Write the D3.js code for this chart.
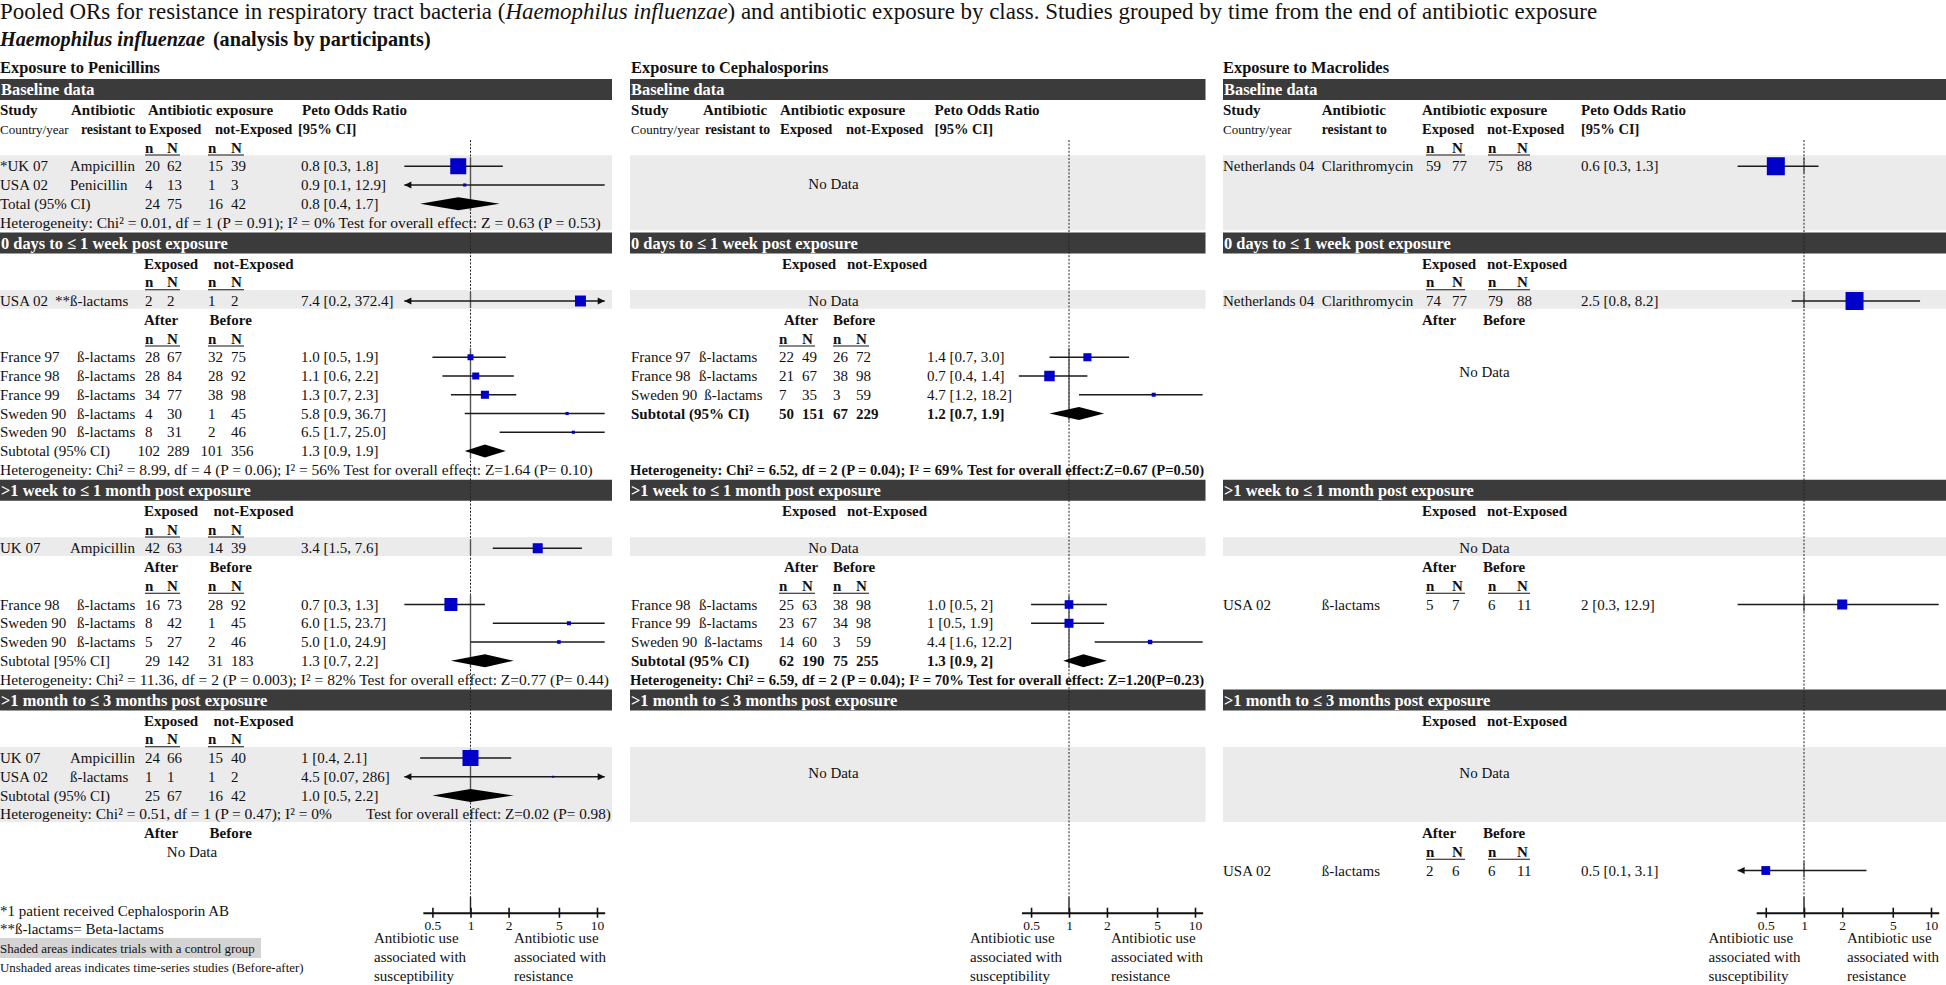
<!DOCTYPE html>
<html><head><meta charset="utf-8">
<script src="https://cdn.jsdelivr.net/npm/d3@7"></script>
<style>body{margin:0;background:#fff} text{font-family:"Liberation Serif","Times New Roman",serif;}</style>
</head><body><script>
// ---------------- DATA ----------------
const titleParts = [["Pooled ORs for resistance in respiratory tract bacteria (", false], ["Haemophilus influenzae", true], [") and antibiotic exposure by class. Studies grouped by time from the end of antibiotic exposure", false]];
const subtitleParts = [["Haemophilus influenzae", true], ["(analysis by participants)", false]];
const panelTitles = ["Exposure to Penicillins", "Exposure to Cephalosporins", "Exposure to Macrolides"];
const periods = ["Baseline data", "0 days to \u2264 1 week post exposure", ">1 week to \u2264 1 month post exposure", ">1 month to \u2264 3 months post exposure"];
const axisTicks = [0.5, 1, 2, 5, 10];
const axisLeftLabel = ["Antibiotic use", "associated with", "susceptibility"];
const axisRightLabel = ["Antibiotic use", "associated with", "resistance"];
const footnotes = ["*1 patient received Cephalosporin AB", "**\u00DF-lactams= Beta-lactams", "Shaded areas indicates trials with a control group", "Unshaded areas indicates time-series studies (Before-after)"];

// Penicillins
const penBase = [
  {study: "*UK 07", ab: "Ampicillin", n1: 20, N1: 62, n2: 15, N2: 39, or: "0.8", lo: "0.3", hi: "1.8", w: 79},
  {study: "USA 02", ab: "Penicillin", n1: 4, N1: 13, n2: 1, N2: 3, or: "0.9", lo: "0.1", hi: "12.9", w: 3}
];
const penBaseTotal = {label: "Total (95% CI)", n1: 24, N1: 75, n2: 16, N2: 42, or: "0.8", lo: "0.4", hi: "1.7"};
const penBaseHet = "Heterogeneity: Chi\u00B2 = 0.01, df = 1 (P = 0.91); I\u00B2 = 0%  Test for overall effect: Z = 0.63 (P = 0.53)";

const pen0Ctrl = [{study: "USA 02", ab: "**\u00DF-lactams", n1: 2, N1: 2, n2: 1, N2: 2, or: "7.4", lo: "0.2", hi: "372.4", w: 37}];
const pen0TS = [
  {study: "France 97", ab: "\u00DF-lactams", n1: 28, N1: 67, n2: 32, N2: 75, or: "1.0", lo: "0.5", hi: "1.9", w: 11},
  {study: "France 98", ab: "\u00DF-lactams", n1: 28, N1: 84, n2: 28, N2: 92, or: "1.1", lo: "0.6", hi: "2.2", w: 15},
  {study: "France 99", ab: "\u00DF-lactams", n1: 34, N1: 77, n2: 38, N2: 98, or: "1.3", lo: "0.7", hi: "2.3", w: 20},
  {study: "Sweden 90", ab: "\u00DF-lactams", n1: 4, N1: 30, n2: 1, N2: 45, or: "5.8", lo: "0.9", hi: "36.7", w: 3},
  {study: "Sweden 90", ab: "\u00DF-lactams", n1: 8, N1: 31, n2: 2, N2: 46, or: "6.5", lo: "1.7", hi: "25.0", w: 3}
];
const pen0Sub = {label: "Subtotal (95% CI)", n1: 102, N1: 289, n2: 101, N2: 356, or: "1.3", lo: "0.9", hi: "1.9"};
const pen0Het = "Heterogeneity: Chi\u00B2 = 8.99, df = 4 (P = 0.06); I\u00B2 = 56%  Test for overall effect: Z=1.64 (P= 0.10)";

const pen1Ctrl = [{study: "UK 07", ab: "Ampicillin", n1: 42, N1: 63, n2: 14, N2: 39, or: "3.4", lo: "1.5", hi: "7.6", w: 31}];
const pen1TS = [
  {study: "France 98", ab: "\u00DF-lactams", n1: 16, N1: 73, n2: 28, N2: 92, or: "0.7", lo: "0.3", hi: "1.3", w: 52},
  {study: "Sweden 90", ab: "\u00DF-lactams", n1: 8, N1: 42, n2: 1, N2: 45, or: "6.0", lo: "1.5", hi: "23.7", w: 5},
  {study: "Sweden 90", ab: "\u00DF-lactams", n1: 5, N1: 27, n2: 2, N2: 46, or: "5.0", lo: "1.0", hi: "24.9", w: 4}
];
const pen1Sub = {label: "Subtotal [95% CI]", n1: 29, N1: 142, n2: 31, N2: 183, or: "1.3", lo: "0.7", hi: "2.2"};
const pen1Het = "Heterogeneity: Chi\u00B2 = 11.36, df = 2 (P = 0.003); I\u00B2 = 82%  Test for overall effect: Z=0.77 (P= 0.44)";

const pen3Ctrl = [
  {study: "UK 07", ab: "Ampicillin", n1: 24, N1: 66, n2: 15, N2: 40, or: "1", lo: "0.4", hi: "2.1", w: 79},
  {study: "USA 02", ab: "\u00DF-lactams", n1: 1, N1: 1, n2: 1, N2: 2, or: "4.5", lo: "0.07", hi: "286", w: 1.2}
];
const pen3Sub = {label: "Subtotal (95% CI)", n1: 25, N1: 67, n2: 16, N2: 42, or: "1.0", lo: "0.5", hi: "2.2"};
const pen3Het = ["Heterogeneity: Chi\u00B2 = 0.51, df = 1 (P = 0.47); I\u00B2 = 0%", "Test for overall effect: Z=0.02 (P= 0.98)"];

// Cephalosporins
const cep0TS = [
  {study: "France 97", ab: "\u00DF-lactams", n1: 22, N1: 49, n2: 26, N2: 72, or: "1.4", lo: "0.7", hi: "3.0", w: 20},
  {study: "France 98", ab: "\u00DF-lactams", n1: 21, N1: 67, n2: 38, N2: 98, or: "0.7", lo: "0.4", hi: "1.4", w: 34},
  {study: "Sweden 90", ab: "\u00DF-lactams", n1: 7, N1: 35, n2: 3, N2: 59, or: "4.7", lo: "1.2", hi: "18.2", w: 5}
];
const cep0Sub = {label: "Subtotal (95% CI)", n1: 50, N1: 151, n2: 67, N2: 229, or: "1.2", lo: "0.7", hi: "1.9"};
const cep0Het = "Heterogeneity: Chi\u00B2 = 6.52, df = 2 (P = 0.04); I\u00B2 = 69%  Test for overall effect:Z=0.67 (P=0.50)";
const cep1TS = [
  {study: "France 98", ab: "\u00DF-lactams", n1: 25, N1: 63, n2: 38, N2: 98, or: "1.0", lo: "0.5", hi: "2", w: 23},
  {study: "France 99", ab: "\u00DF-lactams", n1: 23, N1: 67, n2: 34, N2: 98, or: "1", lo: "0.5", hi: "1.9", w: 25},
  {study: "Sweden 90", ab: "\u00DF-lactams", n1: 14, N1: 60, n2: 3, N2: 59, or: "4.4", lo: "1.6", hi: "12.2", w: 6}
];
const cep1Sub = {label: "Subtotal (95% CI)", n1: 62, N1: 190, n2: 75, N2: 255, or: "1.3", lo: "0.9", hi: "2"};
const cep1Het = "Heterogeneity: Chi\u00B2 = 6.59, df = 2 (P = 0.04); I\u00B2 = 70%  Test for overall effect: Z=1.20(P=0.23)";

// Macrolides
const macBase = [{study: "Netherlands 04", ab: "Clarithromycin", n1: 59, N1: 77, n2: 75, N2: 88, or: "0.6", lo: "0.3", hi: "1.3", w: 100}];
const mac0Ctrl = [{study: "Netherlands 04", ab: "Clarithromycin", n1: 74, N1: 77, n2: 79, N2: 88, or: "2.5", lo: "0.8", hi: "8.2", w: 100}];
const mac1TS = [{study: "USA 02", ab: "\u00DF-lactams", n1: 5, N1: 7, n2: 6, N2: 11, or: "2", lo: "0.3", hi: "12.9", w: 31}];
const mac3TS = [{study: "USA 02", ab: "\u00DF-lactams", n1: 2, N1: 6, n2: 6, N2: 11, or: "0.5", lo: "0.1", hi: "3.1", w: 24}];

// ---------------- LAYOUT ----------------
const PANELS = [
  {x0: 0, x1: 612, sx: 0, ab: 70, cols: [152, 174, 215, 238], orx: 301, one: 470.5, dec: 126.5,
   hdr: {study: 0, abh: 71, exp: 148, peto: 302, cy: 0, res: 81, e: 149, ne: 215, ci: 298},
   grp: {e: 144, ne: 213.5, a: 144, b: 209.6}, ndx: 192, annL: 374, annR: 514},
  {x0: 630, x1: 1205.5, sx: 631, ab: 699, cols: [786, 809, 840, 863], orx: 927, one: 1069, dec: 126,
   hdr: {study: 631, abh: 703, exp: 780, peto: 934.6, cy: 631, res: 705, e: 780, ne: 846, ci: 934.6},
   grp: {e: 782, ne: 847, a: 784, b: 833}, ndx: 833.5, annL: 970, annR: 1111},
  {x0: 1223, x1: 1946, sx: 1223, ab: 1321.7, cols: [1433, 1459, 1495, 1524], orx: 1581, one: 1804, dec: 127,
   hdr: {study: 1223, abh: 1321.7, exp: 1422, peto: 1581, cy: 1223, res: 1321.7, e: 1422, ne: 1487, ci: 1581},
   grp: {e: 1422, ne: 1487, a: 1422, b: 1483}, ndx: 1484.5, annL: 1708.5, annR: 1847}
];
PANELS.forEach(p => {
  p.xs = d3.scaleLog().domain([0.5, 10]).range([p.one + p.dec * Math.log10(0.5), p.one + p.dec]);
});
const PITCH = 18.75, secStart = [115, 268.5, 515.75, 725.5];
const Y = (s, k) => secStart[s] + k * PITCH;
const FS = 15, DIGIT = 7.5;
const CLIP = [0.3, 11.5], ARROW = [0.25, 100];
const AXIS_Y = 912.7;
const size = d3.scaleSqrt().domain([0, 100]).range([0, 18]);

const svg = d3.select("body").append("svg").attr("width", 1946).attr("height", 985).style("display", "block");
const gBg = svg.append("g"), gLine = svg.append("g"), gTxt = svg.append("g"), gMk = svg.append("g");

function T(x, y, s, o = {}) {
  const t = gTxt.append("text").attr("x", x).attr("y", y).attr("font-size", o.fs || FS).text(s);
  if (o.bold) t.attr("font-weight", "bold");
  if (o.italic) t.attr("font-style", "italic");
  if (o.anchor) t.attr("text-anchor", o.anchor);
  t.attr("fill", o.fill || "#111");
  return t;
}
function fit(t, w) {
  const cur = t.node().getComputedTextLength();
  t.attr("font-size", (+t.attr("font-size")) * w / cur);
  return t;
}
function shade(p, s, k, n) {
  gBg.append("rect").attr("x", p.x0).attr("y", Y(s, k) - 16).attr("width", p.x1 - p.x0).attr("height", n * PITCH).attr("fill", "#ebebeb");
}
function bar(p, s) {
  const top = secStart[s] - 36;
  gBg.append("rect").attr("x", p.x0).attr("y", top).attr("width", p.x1 - p.x0).attr("height", 21).attr("fill", "#3b3b3b");
  T(p.x0 + 1, top + 16, periods[s], {bold: true, fs: 16.4, fill: "#fff"});
}
function headers(p) {
  const h = p.hdr, y0 = Y(0, 0), y1 = Y(0, 1);
  T(h.study, y0, "Study", {bold: true}); T(h.abh, y0, "Antibiotic", {bold: true});
  T(h.exp, y0, "Antibiotic exposure", {bold: true}); T(h.peto, y0, "Peto Odds Ratio", {bold: true});
  T(h.cy, y1, "Country/year", {fs: 13}); T(h.res, y1, "resistant to", {bold: true, fs: 13.8});
  T(h.e, y1, "Exposed", {bold: true, fs: 14.5}); T(h.ne, y1, "not-Exposed", {bold: true, fs: 14.5}); T(h.ci, y1, "[95% CI]", {bold: true, fs: 14.5});
}
function grp(p, y, a, b, ctrl) {
  T(ctrl ? p.grp.e : p.grp.a, y, a, {bold: true});
  T(ctrl ? p.grp.ne : p.grp.b, y, b, {bold: true});
}
function nN(p, y) {
  ["n", "N", "n", "N"].forEach((s, i) => T(p.cols[i] - 7, y, s, {bold: true}));
  [[0, 1], [2, 3]].forEach(([a, b]) => gLine.append("line").attr("x1", p.cols[a] - 7).attr("x2", p.cols[b] + 6)
    .attr("y1", y + 2.5).attr("y2", y + 2.5).attr("stroke", "#111").attr("stroke-width", 1.2));
}
function nums(p, y, d, bold) {
  [d.n1, d.N1, d.n2, d.N2].forEach((v, i) => {
    const len = String(v).length;
    const x = p.cols[i] - 7 - (i % 2 === 0 ? Math.max(0, len - 2) * DIGIT : 0);
    T(x, y, v, {bold});
  });
}
function noData(p, y) { T(p.ndx, y, "No Data", {anchor: "middle"}); }
function vline(p, yA, yB) {
  gLine.append("line").attr("x1", p.xs(1)).attr("x2", p.xs(1)).attr("y1", yA - 14).attr("y2", yB + 2)
    .attr("stroke", "#555").attr("stroke-width", 1.4);
}
function ciMark(p, y, d) {
  const lo = +d.lo, hi = +d.hi, or = +d.or, x = p.xs;
  const xl = x(Math.max(lo, CLIP[0])), xr = x(Math.min(hi, CLIP[1]));
  gMk.append("line").attr("x1", xl).attr("x2", xr).attr("y1", y).attr("y2", y).attr("stroke", "#1a1a1a").attr("stroke-width", 1.6);
  if (lo < ARROW[0]) gMk.append("path").attr("d", `M${xl},${y}L${xl + 7},${y - 3.5}L${xl + 7},${y + 3.5}Z`).attr("fill", "#111");
  if (hi > ARROW[1]) gMk.append("path").attr("d", `M${xr},${y}L${xr - 7},${y - 3.5}L${xr - 7},${y + 3.5}Z`).attr("fill", "#111");
  const s = Math.max(2, size(d.w));
  gMk.append("rect").attr("x", x(or) - s / 2).attr("y", y - s / 2).attr("width", s).attr("height", s).attr("fill", "#0000c8");
}
function diamond(p, y, d) {
  const x = p.xs;
  gMk.append("path").attr("d", `M${x(+d.lo)},${y}L${x(+d.or)},${y - 6.5}L${x(+d.hi)},${y}L${x(+d.or)},${y + 6.5}Z`).attr("fill", "#000");
}
function studyRow(p, y, d, abx) {
  const t = T(p.sx, y, d.study);
  const w = t.node().getComputedTextLength();
  T(Math.max(abx === undefined ? p.ab : abx, p.sx + w + 7), y, d.ab);
  nums(p, y, d, false);
  T(p.orx, y, `${d.or} [${d.lo}, ${d.hi}]`);
  ciMark(p, y - 5, d);
}
function totalRow(p, y, d, bold) {
  T(p.sx, y, d.label, {bold});
  nums(p, y, d, bold);
  T(p.orx, y, `${d.or} [${d.lo}, ${d.hi}]`, {bold});
  diamond(p, y - 5, d);
}

// ---------------- TITLES ----------------
const tt = gTxt.append("text").attr("x", 0).attr("y", 19).attr("font-size", 22).attr("fill", "#111");
titleParts.forEach(([s, it]) => tt.append("tspan").attr("font-style", it ? "italic" : "normal").text(s));
fit(tt, 1598);
const st = gTxt.append("text").attr("x", 0).attr("y", 46).attr("font-size", 17).attr("font-weight", "bold").attr("fill", "#111");
st.append("tspan").attr("font-style", "italic").text(subtitleParts[0][0]);
st.append("tspan").attr("dx", 8).text(subtitleParts[1][0]);
fit(st, 423);

// ---------------- PANELS ----------------
PANELS.forEach((p, i) => {
  T(p.sx, 73, panelTitles[i], {bold: true, fs: 16.4});
  [0, 1, 2, 3].forEach(s => bar(p, s));
  gLine.append("line").attr("x1", p.xs(1)).attr("x2", p.xs(1)).attr("y1", 140).attr("y2", 897)
    .attr("stroke", "#222").attr("stroke-width", 1).attr("stroke-dasharray", "2,1.6");
  gLine.append("line").attr("x1", p.xs(1)).attr("x2", p.xs(1)).attr("y1", 897).attr("y2", AXIS_Y)
    .attr("stroke", "#222").attr("stroke-width", 1.4);
  const ax = d3.scaleLog().domain([0.42, 11.5]).range([p.xs(0.42), p.xs(11.5)]);
  const g = svg.append("g").attr("transform", `translate(0,${AXIS_Y})`)
    .call(d3.axisBottom(ax).tickValues(axisTicks).tickFormat(d => String(d)).tickSize(5).tickSizeOuter(0));
  g.select(".domain").attr("stroke", "#111").attr("stroke-width", 2);
  g.selectAll(".tick line").attr("y1", -5).attr("y2", 5).attr("stroke", "#111").attr("stroke-width", 1.6);
  g.selectAll(".tick text").attr("font-family", "Liberation Sans, Arial, sans-serif").attr("font-size", 13.5).attr("fill", "#111").attr("y", 8);
  axisLeftLabel.forEach((s, j) => T(p.annL, 943 + j * 19, s));
  axisRightLabel.forEach((s, j) => T(p.annR, 943 + j * 19, s));
});

// ---- Penicillins ----
{
  const p = PANELS[0];
  shade(p, 0, 3, 4); headers(p); nN(p, Y(0, 2));
  penBase.forEach((d, i) => studyRow(p, Y(0, 3 + i), d));
  totalRow(p, Y(0, 5), penBaseTotal, false); vline(p, Y(0, 3), Y(0, 5));
  fit(T(0, Y(0, 6), penBaseHet), 601);

  grp(p, Y(1, 0), "Exposed", "not-Exposed", true); nN(p, Y(1, 1));
  shade(p, 1, 2, 1); studyRow(p, Y(1, 2), pen0Ctrl[0], 0); vline(p, Y(1, 2), Y(1, 2));
  grp(p, Y(1, 3), "After", "Before"); nN(p, Y(1, 4));
  pen0TS.forEach((d, i) => studyRow(p, Y(1, 5 + i), d, 77));
  totalRow(p, Y(1, 10), pen0Sub, false); vline(p, Y(1, 5), Y(1, 10));
  fit(T(0, Y(1, 11), pen0Het), 593);

  grp(p, Y(2, 0), "Exposed", "not-Exposed", true); nN(p, Y(2, 1));
  shade(p, 2, 2, 1); studyRow(p, Y(2, 2), pen1Ctrl[0]); vline(p, Y(2, 2), Y(2, 2));
  grp(p, Y(2, 3), "After", "Before"); nN(p, Y(2, 4));
  pen1TS.forEach((d, i) => studyRow(p, Y(2, 5 + i), d, 77));
  totalRow(p, Y(2, 8), pen1Sub, false); vline(p, Y(2, 5), Y(2, 8));
  fit(T(0, Y(2, 9), pen1Het), 609);

  grp(p, Y(3, 0), "Exposed", "not-Exposed", true); nN(p, Y(3, 1));
  shade(p, 3, 2, 4);
  pen3Ctrl.forEach((d, i) => studyRow(p, Y(3, 2 + i), d));
  totalRow(p, Y(3, 4), pen3Sub, false); vline(p, Y(3, 2), Y(3, 4));
  fit(T(0, Y(3, 5), pen3Het[0]), 332);
  fit(T(366, Y(3, 5), pen3Het[1]), 245);
  grp(p, Y(3, 6), "After", "Before"); noData(p, Y(3, 7));

  T(0, 916, footnotes[0]);
  T(0, 934, footnotes[1]);
  gBg.append("rect").attr("x", 0).attr("y", 938).attr("width", 261).attr("height", 20).attr("fill", "#d4d4d4");
  fit(T(0, 953, footnotes[2], {fs: 12.5}), 255);
  fit(T(0, 972, footnotes[3], {fs: 12.5}), 304);
}

// ---- Cephalosporins ----
{
  const p = PANELS[1];
  shade(p, 0, 3, 4); headers(p); noData(p, Y(0, 4) - 1);

  grp(p, Y(1, 0), "Exposed", "not-Exposed", true);
  shade(p, 1, 2, 1); noData(p, Y(1, 2));
  grp(p, Y(1, 3), "After", "Before"); nN(p, Y(1, 4));
  cep0TS.forEach((d, i) => studyRow(p, Y(1, 5 + i), d));
  totalRow(p, Y(1, 8), cep0Sub, true); vline(p, Y(1, 5), Y(1, 8));
  fit(T(630, Y(1, 11), cep0Het, {bold: true}), 575);

  grp(p, Y(2, 0), "Exposed", "not-Exposed", true);
  shade(p, 2, 2, 1); noData(p, Y(2, 2));
  grp(p, Y(2, 3), "After", "Before"); nN(p, Y(2, 4));
  cep1TS.forEach((d, i) => studyRow(p, Y(2, 5 + i), d));
  totalRow(p, Y(2, 8), cep1Sub, true); vline(p, Y(2, 5), Y(2, 8));
  fit(T(630, Y(2, 9), cep1Het, {bold: true}), 575);

  shade(p, 3, 2, 4); noData(p, Y(3, 3) - 4);
}

// ---- Macrolides ----
{
  const p = PANELS[2];
  shade(p, 0, 3, 4); headers(p); nN(p, Y(0, 2));
  macBase.forEach((d, i) => studyRow(p, Y(0, 3 + i), d)); vline(p, Y(0, 3), Y(0, 3));

  grp(p, Y(1, 0), "Exposed", "not-Exposed", true); nN(p, Y(1, 1));
  shade(p, 1, 2, 1); mac0Ctrl.forEach((d, i) => studyRow(p, Y(1, 2 + i), d)); vline(p, Y(1, 2), Y(1, 2));
  grp(p, Y(1, 3), "After", "Before"); noData(p, Y(1, 6) - 4);

  grp(p, Y(2, 0), "Exposed", "not-Exposed", true);
  shade(p, 2, 2, 1); noData(p, Y(2, 2));
  grp(p, Y(2, 3), "After", "Before"); nN(p, Y(2, 4));
  mac1TS.forEach((d, i) => studyRow(p, Y(2, 5 + i), d)); vline(p, Y(2, 5), Y(2, 5));

  grp(p, Y(3, 0), "Exposed", "not-Exposed", true);
  shade(p, 3, 2, 4); noData(p, Y(3, 3) - 4);
  grp(p, Y(3, 6), "After", "Before"); nN(p, Y(3, 7));
  mac3TS.forEach((d, i) => studyRow(p, Y(3, 8 + i), d)); vline(p, Y(3, 8), Y(3, 8));
}
</script></body></html>
